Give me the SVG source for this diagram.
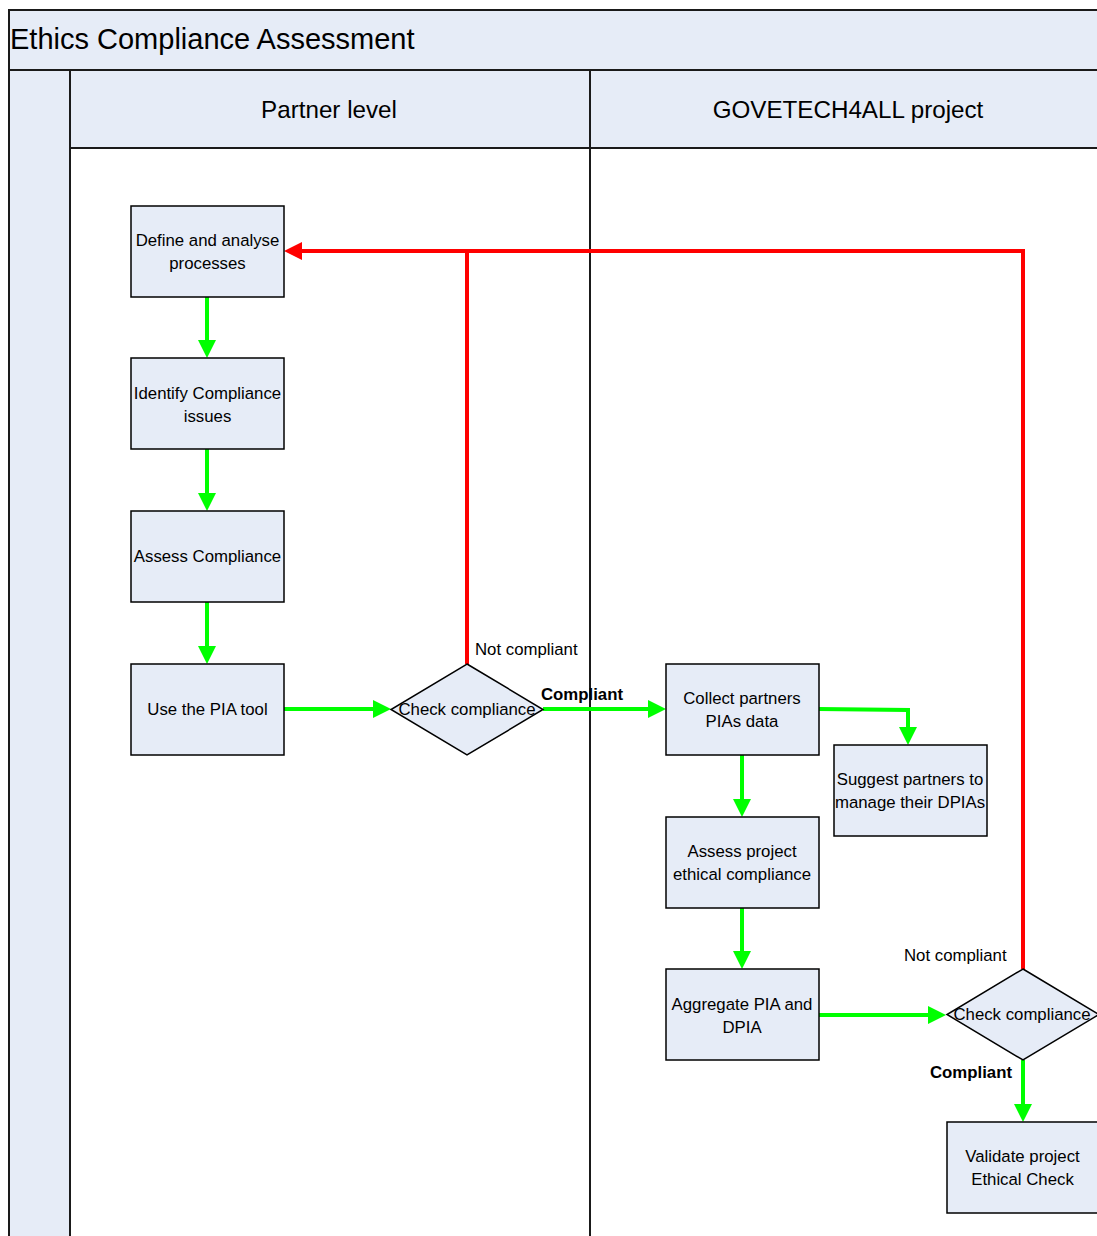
<svg xmlns="http://www.w3.org/2000/svg" width="1097" height="1236" viewBox="0 0 1097 1236">
<style>
.frame{fill:#E6ECF7;stroke:#1a1a1a;stroke-width:2}
.box{fill:#E6ECF7;stroke:#000;stroke-width:1.5}
.t{font-family:"Liberation Sans",Arial,sans-serif;font-size:16.8px;fill:#000;text-anchor:middle}
.lbl{font-family:"Liberation Sans",Arial,sans-serif;font-size:16.8px;fill:#000}
.b{font-weight:bold}
.g{fill:none;stroke:#00FF00;stroke-width:4;marker-end:url(#ag)}
.r{fill:none;stroke:#FF0000;stroke-width:4}
</style>
<defs>
<marker id="ag" viewBox="0 0 18 18" markerWidth="18" markerHeight="18" markerUnits="userSpaceOnUse" refX="2" refY="9" orient="auto"><path d="M0,0 L18,9 L0,18 z" fill="#00FF00"/></marker>
<marker id="ar" viewBox="0 0 18 18" markerWidth="18" markerHeight="18" markerUnits="userSpaceOnUse" refX="2" refY="9" orient="auto"><path d="M0,0 L18,9 L0,18 z" fill="#FF0000"/></marker>
</defs>
<rect width="1097" height="1236" fill="#fff"/>
<g id="pool">
<rect class="frame" x="9" y="10" width="1100" height="60"/>
<text x="10" y="49" style="font-family:'Liberation Sans',Arial,sans-serif;font-size:29px;fill:#000">Ethics Compliance Assessment</text>
<rect class="frame" x="9" y="70" width="61" height="1180"/>
<rect class="frame" x="70" y="70" width="520" height="78"/>
<rect class="frame" x="590" y="70" width="520" height="78"/>
<line x1="590" y1="148" x2="590" y2="1236" stroke="#1a1a1a" stroke-width="2"/>
<text x="329" y="118" style="font-family:'Liberation Sans',Arial,sans-serif;font-size:24.2px;fill:#000;text-anchor:middle">Partner level</text>
<text x="848" y="118" style="font-family:'Liberation Sans',Arial,sans-serif;font-size:24.2px;fill:#000;text-anchor:middle">GOVETECH4ALL project</text>
</g>
<g id="connectors">
<path class="g" d="M207,297 V342"/>
<path class="g" d="M207,449 V495"/>
<path class="g" d="M207,602 V648"/>
<path class="g" d="M284,709 H375"/>
<path class="g" d="M543,709 H650"/>
<path class="g" d="M819,709 L908,710 V729"/>
<path class="g" d="M742,755 V801"/>
<path class="g" d="M742,908 V953"/>
<path class="g" d="M819,1015 H930"/>
<path class="g" d="M1023,1060 V1106"/>
<path class="r" d="M1023,969 V251 H467"/>
<path class="r" d="M467,664 V251 H300" marker-end="url(#ar)"/>
<text class="lbl" x="475" y="655">Not compliant</text>
<text class="lbl b" x="541" y="700">Compliant</text>
<text class="lbl" x="904" y="961">Not compliant</text>
<text class="lbl b" x="930" y="1078">Compliant</text>
</g>
<g id="define"><rect class="box" x="131" y="206" width="153" height="91"/><text class="t" x="207.5" y="246">Define and analyse</text><text class="t" x="207.5" y="269">processes</text></g>
<g id="identify"><rect class="box" x="131" y="358" width="153" height="91"/><text class="t" x="207.5" y="399">Identify Compliance</text><text class="t" x="207.5" y="422">issues</text></g>
<g id="assess"><rect class="box" x="131" y="511" width="153" height="91"/><text class="t" x="207.5" y="562">Assess Compliance</text></g>
<g id="pia"><rect class="box" x="131" y="664" width="153" height="91"/><text class="t" x="207.5" y="715">Use the PIA tool</text></g>
<g id="check1"><polygon class="box" points="467,664 543,709.5 467,755 391,709.5"/><text class="t" x="467" y="715">Check compliance</text></g>
<g id="collect"><rect class="box" x="666" y="664" width="153" height="91"/><text class="t" x="742" y="704">Collect partners</text><text class="t" x="742" y="727">PIAs data</text></g>
<g id="suggest"><rect class="box" x="834" y="745" width="153" height="91"/><text class="t" x="910" y="785">Suggest partners to</text><text class="t" x="910" y="808">manage their DPIAs</text></g>
<g id="assessproject"><rect class="box" x="666" y="817" width="153" height="91"/><text class="t" x="742" y="857">Assess project</text><text class="t" x="742" y="880">ethical compliance</text></g>
<g id="aggregate"><rect class="box" x="666" y="969" width="153" height="91"/><text class="t" x="742" y="1010">Aggregate PIA and</text><text class="t" x="742" y="1033">DPIA</text></g>
<g id="check2"><polygon class="box" points="1023,969 1099,1014.5 1023,1060 947,1014.5"/><text class="t" x="1022" y="1020">Check compliance</text></g>
<g id="validate"><rect class="box" x="947" y="1122" width="153" height="91"/><text class="t" x="1022.5" y="1162">Validate project</text><text class="t" x="1022.5" y="1185">Ethical Check</text></g>
</svg>
